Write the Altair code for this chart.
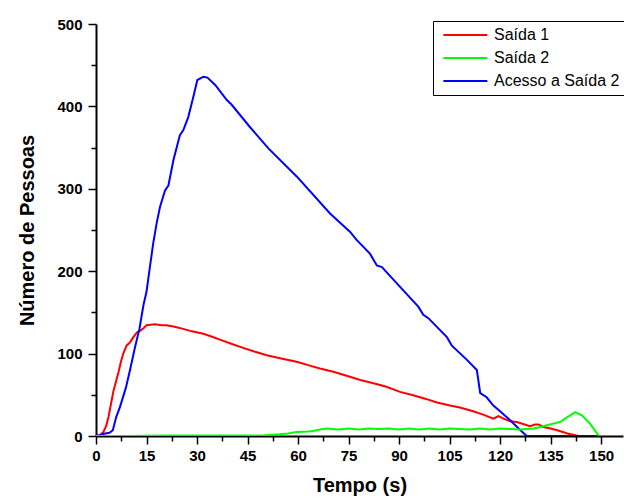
import altair as alt
import pandas as pd

# ---- data ----
t_saida1 = [0, 1.2, 2.2, 3, 3.7, 4.5, 5.2, 6.6, 7.4, 8.1, 9.1, 10, 11.1, 12.2, 13.2, 14.2, 15.0,
            17.5, 19.5, 21, 23, 25.9, 28.5, 31.9, 34.5, 36.8, 40.8, 43.7, 47, 50.7, 55, 59.6, 63,
            66.5, 70.5, 75.4, 78.5, 82.4, 86, 90.3, 94.2, 98, 101, 105.1, 108.1, 112, 115, 118,
            119.5, 121, 123, 125, 128.9, 130.4, 131.4, 132.9, 135, 137, 140, 143.3]
v_saida1 = [0, 1, 5, 12, 23, 40, 55, 76, 90, 100, 110, 113, 120, 126, 128, 131, 134.5,
            135.6, 134.5, 134.5, 133, 130, 127, 124, 120.5, 117, 111, 107, 102.5, 98, 94, 90, 86,
            82, 78, 72, 68, 64, 60, 53.5, 49.5, 45, 41, 37, 34.5, 30, 26, 21,
            24, 21, 18, 17, 12, 14, 14, 11, 9, 7, 3, 0]

t_saida2 = [0, 10, 20, 30, 40, 45, 50, 54.6, 57, 59.6, 63, 64.5, 66.5, 68.5, 72, 75, 78, 81, 84,
            87, 90, 93, 96, 99, 102, 105, 108, 111, 114, 117, 120, 123, 126, 129.9, 132, 133.9,
            135.8, 137.8, 140, 142.3, 144.3, 146.7, 149.4]
v_saida2 = [0, 0, 0.5, 0.5, 0.5, 0.5, 1, 2, 3, 5, 5.5, 6, 8, 9, 8, 9, 8, 9, 8.5,
            9, 8, 9, 8, 9, 8, 9, 8.5, 8, 9, 8, 9, 8.5, 8, 9, 11, 13,
            15, 17, 23, 29, 25, 15, 0]

t_acesso = [0, 1, 2.7, 4, 5, 6, 7.1, 8.9, 10.1, 11.6, 12.9, 14.1, 15.0, 16, 17.0, 18, 19.0, 20.5,
            21.5, 23.0, 24.9, 25.9, 27.4, 28.8, 30.1, 31.9, 33.1, 35.4, 38.8, 40.3, 45.7, 51.2,
            59.6, 69.5, 75.4, 77.4, 81.4, 83.4, 84.9, 90.3, 95.7, 97.2, 98.7, 104.2, 105.6, 110,
            113.1, 114.1, 116.0, 118.0, 120.0, 123.0, 125.5, 127.9, 149.5]
v_acesso = [0, 1, 3, 4, 7, 23, 35, 59, 80, 108, 130, 159, 175, 205, 234, 258, 278, 298,
            304, 335, 365, 371, 387, 410, 432, 436, 435, 426, 408, 402, 375, 349,
            315, 270, 248, 238, 221, 207, 205, 181, 157, 147, 143, 120, 110, 93,
            80, 52, 47, 37, 30, 19, 9, 0, 0]

series_names = ["Saída 1", "Saída 2", "Acesso a Saída 2"]
series_colors = ["#ff0000", "#00ff00", "#0000ff"]

rows = []
for name, ts, vs in [(series_names[0], t_saida1, v_saida1),
                     (series_names[2], t_acesso, v_acesso),
                     (series_names[1], t_saida2, v_saida2)]:
    for i, (t, v) in enumerate(zip(ts, vs)):
        rows.append({"serie": name, "tempo": t, "pessoas": v, "i": i})
df = pd.DataFrame(rows)

x_vals = [i * 7.5 for i in range(21)]
y_vals = [i * 50 for i in range(11)]

chart = alt.Chart(df).mark_line(strokeWidth=2, clip=True).encode(
    x=alt.X("tempo:Q", title="Tempo (s)",
            scale=alt.Scale(domain=[0, 156.5], nice=False, zero=False),
            axis=alt.Axis(values=x_vals,
                          labelExpr="datum.value % 15 == 0 ? datum.label : ''",
                          tickSize={"condition": {"test": "datum.value % 15 == 0", "value": 8}, "value": 5},
                          labelPadding=4, titlePadding=12, grid=False, labelFlush=False,
                          labelOverlap=False)),
    y=alt.Y("pessoas:Q", title="Número de Pessoas",
            scale=alt.Scale(domain=[0, 500], nice=False),
            axis=alt.Axis(values=y_vals,
                          labelExpr="datum.value % 100 == 0 ? datum.label : ''",
                          tickSize={"condition": {"test": "datum.value % 100 == 0", "value": 8}, "value": 5},
                          labelPadding=6, titlePadding=19, grid=False, labelFlush=False,
                          labelOverlap=False)),
    color=alt.Color("serie:N",
                    scale=alt.Scale(domain=series_names, range=series_colors),
                    legend=alt.Legend(title=None, orient="none", legendX=337, legendY=-3,
                                      symbolType="M-0.6,0H6.73", symbolSize=144,
                                      symbolStrokeWidth=2, labelOffset=39,
                                      labelFontSize=16, labelFont="Liberation Sans",
                                      strokeColor="black", padding=6, rowPadding=7,
                                      fillColor="white", labelLimit=300)),
    detail="serie:N",
    order="i:Q",
).properties(
    width=527, height=412,
    autosize=alt.AutoSizeParams(type="none"),
    padding={"left": 96, "top": 24, "right": 1, "bottom": 61},
).configure_view(stroke=None).configure_axis(
    domainColor="black", domainWidth=2, tickColor="black", tickWidth=1.5,
    labelFont="Liberation Sans", labelFontWeight="bold", labelFontSize=15, labelColor="black",
    titleFont="Liberation Sans", titleFontWeight="bold", titleFontSize=20, titleColor="black",
)

chart.save("out.html", embed_options={"renderer": "svg", "actions": False})
